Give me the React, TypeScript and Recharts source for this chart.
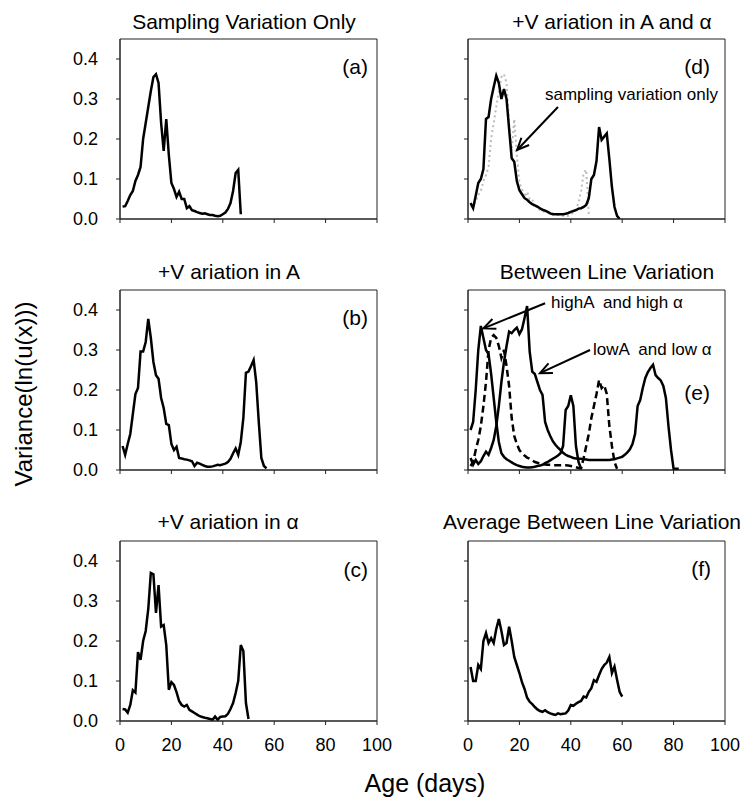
import React from "react";
import { LineChart, Line, XAxis, YAxis, ReferenceArea, ReferenceLine } from "recharts";

const FONT = '"Liberation Sans", Arial, Helvetica, sans-serif';

const xTicks = [0, 20, 40, 60, 80, 100];
const yTicks = [0, 0.1, 0.2, 0.3, 0.4];

// variance of ln(u(x)) by age in days, starting at day 1
const varA = [0.031, 0.032, 0.045, 0.06, 0.07, 0.095, 0.11, 0.13, 0.2, 0.24, 0.28, 0.32, 0.355, 0.362, 0.34, 0.24, 0.17, 0.25, 0.16, 0.09, 0.075, 0.055, 0.068, 0.05, 0.05, 0.027, 0.032, 0.022, 0.02, 0.017, 0.015, 0.013, 0.014, 0.012, 0.01, 0.01, 0.008, 0.007, 0.008, 0.012, 0.016, 0.025, 0.04, 0.07, 0.115, 0.123, 0.012];
const varB = [0.06, 0.038, 0.065, 0.09, 0.14, 0.19, 0.205, 0.296, 0.296, 0.32, 0.378, 0.33, 0.27, 0.237, 0.228, 0.18, 0.155, 0.115, 0.112, 0.065, 0.05, 0.058, 0.03, 0.029, 0.027, 0.026, 0.024, 0.022, 0.01, 0.018, 0.016, 0.013, 0.01, 0.008, 0.008, 0.009, 0.011, 0.013, 0.012, 0.014, 0.016, 0.02, 0.028, 0.042, 0.054, 0.038, 0.07, 0.13, 0.243, 0.246, 0.26, 0.275, 0.22, 0.12, 0.03, 0.01, 0.004];
const varC = [0.03, 0.029, 0.021, 0.04, 0.077, 0.071, 0.172, 0.153, 0.2, 0.225, 0.28, 0.37, 0.367, 0.27, 0.34, 0.236, 0.24, 0.19, 0.078, 0.097, 0.09, 0.072, 0.05, 0.04, 0.036, 0.04, 0.028, 0.024, 0.02, 0.016, 0.012, 0.01, 0.008, 0.007, 0.005, 0.003, 0.011, 0.003, 0.01, 0.011, 0.012, 0.018, 0.03, 0.045, 0.07, 0.1, 0.19, 0.175, 0.045, 0.005];
const varD = [0.04, 0.027, 0.058, 0.09, 0.1, 0.125, 0.25, 0.255, 0.3, 0.33, 0.358, 0.34, 0.3, 0.325, 0.3, 0.225, 0.152, 0.143, 0.095, 0.072, 0.062, 0.052, 0.048, 0.042, 0.037, 0.034, 0.031, 0.027, 0.023, 0.021, 0.018, 0.014, 0.012, 0.012, 0.012, 0.012, 0.012, 0.013, 0.015, 0.018, 0.02, 0.022, 0.026, 0.027, 0.03, 0.035, 0.052, 0.1, 0.11, 0.145, 0.23, 0.198, 0.206, 0.214, 0.15, 0.08, 0.03, 0.008, 0];
const varEHigh = [0.1, 0.12, 0.2, 0.3, 0.36, 0.33, 0.3, 0.29, 0.24, 0.18, 0.12, 0.07, 0.042, 0.033, 0.027, 0.023, 0.019, 0.015, 0.012, 0.01, 0.008, 0.007, 0.006, 0.006, 0.007, 0.008, 0.01, 0.011, 0.013, 0.017, 0.02, 0.024, 0.028, 0.032, 0.036, 0.042, 0.06, 0.15, 0.16, 0.187, 0.16, 0.06, 0.02, 0.003];
const varEMid = [0.01, 0.02, 0.05, 0.075, 0.11, 0.16, 0.22, 0.3, 0.33, 0.337, 0.33, 0.31, 0.28, 0.3, 0.26, 0.21, 0.13, 0.085, 0.065, 0.05, 0.042, 0.036, 0.031, 0.028, 0.024, 0.02, 0.018, 0.016, 0.015, 0.014, 0.013, 0.013, 0.012, 0.012, 0.012, 0.012, 0.012, 0.012, 0.011, 0.01, 0.009, 0.007, 0.005, 0.004, 0.03, 0.06, 0.09, 0.13, 0.16, 0.19, 0.225, 0.205, 0.212, 0.19, 0.11, 0.06, 0.02, 0.003];
const varELow = [0.03, 0.013, 0.025, 0.015, 0.022, 0.035, 0.046, 0.038, 0.055, 0.075, 0.11, 0.16, 0.22, 0.27, 0.31, 0.346, 0.342, 0.35, 0.356, 0.34, 0.352, 0.38, 0.41, 0.296, 0.246, 0.24, 0.22, 0.2, 0.188, 0.12, 0.1, 0.085, 0.072, 0.063, 0.056, 0.05, 0.043, 0.038, 0.035, 0.033, 0.03, 0.029, 0.028, 0.028, 0.027, 0.026, 0.025, 0.025, 0.025, 0.025, 0.025, 0.025, 0.025, 0.025, 0.025, 0.026, 0.027, 0.029, 0.031, 0.033, 0.038, 0.044, 0.052, 0.065, 0.09, 0.16, 0.175, 0.205, 0.23, 0.245, 0.255, 0.263, 0.237, 0.23, 0.224, 0.21, 0.18, 0.11, 0.05, 0.003, 0.003, 0.003];
const varF = [0.135, 0.1, 0.1, 0.14, 0.13, 0.2, 0.22, 0.195, 0.207, 0.195, 0.23, 0.255, 0.225, 0.19, 0.195, 0.236, 0.2, 0.16, 0.14, 0.12, 0.097, 0.08, 0.058, 0.048, 0.042, 0.035, 0.029, 0.025, 0.023, 0.027, 0.022, 0.019, 0.017, 0.015, 0.019, 0.017, 0.018, 0.019, 0.026, 0.04, 0.038, 0.043, 0.047, 0.05, 0.061, 0.059, 0.073, 0.082, 0.102, 0.098, 0.115, 0.13, 0.14, 0.146, 0.16, 0.12, 0.136, 0.103, 0.073, 0.061];

// arrows, in data coordinates: [from, tip]
const arrowD = [{ x: 35, y: 0.28 }, { x: 19.1, y: 0.1725 }];
const arrowHigh = [{ x: 30, y: 0.417 }, { x: 6, y: 0.354 }];
const arrowLow = [{ x: 47.5, y: 0.3 }, { x: 28, y: 0.242 }];

const toPoints = (vals: number[]) => vals.map((v, i) => ({ age: i + 1, v }));

type Series = { values: number[]; color?: string; dash?: string; width?: number };

const Arrow = (p: any) => {
  const { x1, y1, x2, y2 } = p;
  const a = Math.atan2(y1 - y2, x1 - x2);
  const L = 13;
  const s = 0.42;
  const h1x = x2 + L * Math.cos(a + s);
  const h1y = y2 + L * Math.sin(a + s);
  const h2x = x2 + L * Math.cos(a - s);
  const h2y = y2 + L * Math.sin(a - s);
  return (
    <g>
      <line x1={x1} y1={y1} x2={x2} y2={y2} stroke="#000" strokeWidth={2} />
      <polyline points={`${h1x},${h1y} ${x2},${y2} ${h2x},${h2y}`} fill="none" stroke="#000" strokeWidth={2} />
    </g>
  );
};

const tickStyle = { fill: "#000", fontSize: 18, fontFamily: FONT };

function Panel({
  left,
  top,
  series,
  showX,
  showY,
  arrows = [],
}: {
  left: number;
  top: number;
  series: Series[];
  showX: boolean;
  showY: boolean;
  arrows?: { x: number; y: number }[][];
}) {
  return (
    <div style={{ position: "absolute", left, top }}>
      <LineChart width={332} height={225} margin={{ top: 5, right: 25, left: 0, bottom: 0 }}>
        <XAxis
          type="number"
          dataKey="age"
          domain={[0, 100]}
          ticks={xTicks}
          interval={0}
          allowDataOverflow
          height={40}
          tickSize={4}
          tickMargin={13}
          stroke="#222"
          tick={tickStyle}
          tickFormatter={showX ? (v: number) => String(v) : () => ""}
        />
        <YAxis
          type="number"
          domain={[0, 0.45]}
          ticks={yTicks}
          interval={0}
          allowDataOverflow
          width={50}
          tickSize={4}
          tickMargin={18}
          stroke="#222"
          tick={tickStyle}
          tickFormatter={showY ? (v: number) => v.toFixed(1) : () => ""}
        />
        <ReferenceArea x1={0} x2={100} y1={0} y2={0.45} fill="none" stroke="#222" strokeWidth={1} ifOverflow="visible" />
        {series.map((s, i) => (
          <Line
            key={i}
            data={toPoints(s.values)}
            dataKey="v"
            type="linear"
            stroke={s.color ?? "#000"}
            strokeWidth={s.width ?? 2.5}
            strokeDasharray={s.dash}
            dot={false}
            activeDot={false}
            isAnimationActive={false}
          />
        ))}
        {arrows.map((seg, i) => (
          <ReferenceLine key={`a${i}`} segment={seg} shape={Arrow} ifOverflow="visible" />
        ))}
      </LineChart>
    </div>
  );
}

export default function App() {
  const title = { fontSize: 21, textAnchor: "middle" as const };
  const tag = { fontSize: 21, textAnchor: "end" as const };
  const note = { fontSize: 17, whiteSpace: "pre" as const };
  return (
    <div style={{ position: "absolute", left: 0, top: 0, width: 746, height: 799, background: "#fff" }}>
      <Panel left={70} top={34} series={[{ values: varA }]} showX={false} showY />
      <Panel left={70} top={285} series={[{ values: varB }]} showX={false} showY />
      <Panel left={70} top={536} series={[{ values: varC }]} showX showY />
      <Panel
        left={418}
        top={34}
        series={[{ values: varA, color: "#bbb", dash: "2 3", width: 2 }, { values: varD }]}
        showX={false}
        showY={false}
        arrows={[arrowD]}
      />
      <Panel
        left={418}
        top={285}
        series={[{ values: varEMid, dash: "7 4" }, { values: varELow }, { values: varEHigh }]}
        showX={false}
        showY={false}
        arrows={[arrowHigh, arrowLow]}
      />
      <Panel left={418} top={536} series={[{ values: varF }]} showX showY={false} />

      <svg
        width={746}
        height={799}
        style={{ position: "absolute", left: 0, top: 0, pointerEvents: "none" }}
        fontFamily={FONT}
        fill="#000"
      >
        <text x={244} y={29} {...title}>Sampling Variation Only</text>
        <text x={612} y={29} {...title}>+V ariation in A and α</text>
        <text x={229} y={279} {...title}>+V ariation in A</text>
        <text x={607} y={279} {...title}>Between Line Variation</text>
        <text x={228} y={529} {...title}>+V ariation in α</text>
        <text x={592} y={529} {...title}>Average Between Line Variation</text>

        <text x={368} y={74} {...tag}>(a)</text>
        <text x={710} y={74} {...tag}>(d)</text>
        <text x={368} y={325} {...tag}>(b)</text>
        <text x={710} y={400} {...tag}>(e)</text>
        <text x={368} y={577} {...tag}>(c)</text>
        <text x={711} y={576} {...tag}>(f)</text>

        <text x={545} y={100} style={note} fontSize={17}>sampling variation only</text>
        <text x={551} y={308} style={note} fontSize={17}>highA  and high α</text>
        <text x={593} y={355} style={note} fontSize={17}>lowA  and low α</text>

        <text x={425} y={792} fontSize={25} textAnchor="middle">Age (days)</text>
        <text x={32} y={394} fontSize={24} textAnchor="middle" transform="rotate(-90 32 394)">
          Variance(ln(u(x)))
        </text>
      </svg>
    </div>
  );
}
